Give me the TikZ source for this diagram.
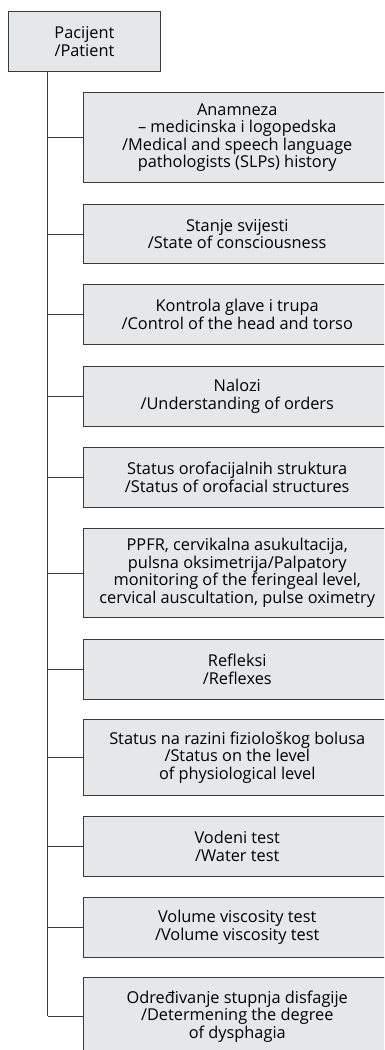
\documentclass[tikz,border=0pt]{standalone}
\usepackage{fontspec}
\setmainfont{Open Sans}
\definecolor{boxfill}{HTML}{E6E7E8}
\definecolor{edge}{HTML}{3A3A3A}
\begin{document}
\begin{tikzpicture}[x=1bp,y=-1bp,
  box/.style={draw=edge,fill=boxfill,line width=0.9bp,align=center,inner sep=0pt,
    font=\fontsize{16.4}{17.6}\selectfont,text=black},
  child/.style={box,anchor=north west,minimum width=307bp},
  link/.style={draw=edge,line width=0.9bp}]
\useasboundingbox (0,0) rectangle (384,1050);
\clip (0,0) rectangle (384,1050);
\fill[white] (0,0) rectangle (384,1050);
\node[box,anchor=north west,minimum width=152bp,minimum height=60bp] (p) at (8,11) {Pacijent\\/Patient};
\coordinate (t) at (47.7,71);
\node[child,minimum height=90bp] (c1) at (83.3,92) {Anamneza\\– medicinska i logopedska\\/Medical and speech language\\pathologists (SLPs) history};
\node[child,minimum height=59bp] (c2) at (83.3,204) {Stanje svijesti\\/State of consciousness};
\node[child,minimum height=60bp] (c3) at (83.3,284) {Kontrola glave i trupa\\/Control of the head and torso};
\node[child,minimum height=60bp] (c4) at (83.3,366) {Nalozi\\/Understanding of orders};
\node[child,minimum height=60bp] (c5) at (83.3,447) {Status orofacijalnih struktura\\/Status of orofacial structures};
\node[child,minimum height=89bp] (c6) at (83.3,528) {PPFR, cervikalna asukultacija,\\pulsna oksimetrija/Palpatory\\monitoring of the feringeal level,\\cervical auscultation, pulse oximetry};
\node[child,minimum height=60bp] (c7) at (83.3,639) {Refleksi\\/Reflexes};
\node[child,minimum height=76bp] (c8) at (83.3,719) {Status na razini fiziološkog bolusa\\/Status on the level\\of physiological level};
\node[child,minimum height=60bp] (c9) at (83.3,816) {Vodeni test\\/Water test};
\node[child,minimum height=60bp] (c10) at (83.3,897) {Volume viscosity test\\/Volume viscosity test};
\node[child,minimum height=78bp] (c11) at (83.3,977) {Određivanje stupnja disfagije\\/Determening the degree\\of dysphagia};
\draw[link] (t) -- (t |- c11.west);
\foreach \c in {c1,c2,c3,c4,c5,c6,c7,c8,c9,c10,c11}
  \draw[link] (t |- \c.west) -- (\c.west);
\end{tikzpicture}
\end{document}
